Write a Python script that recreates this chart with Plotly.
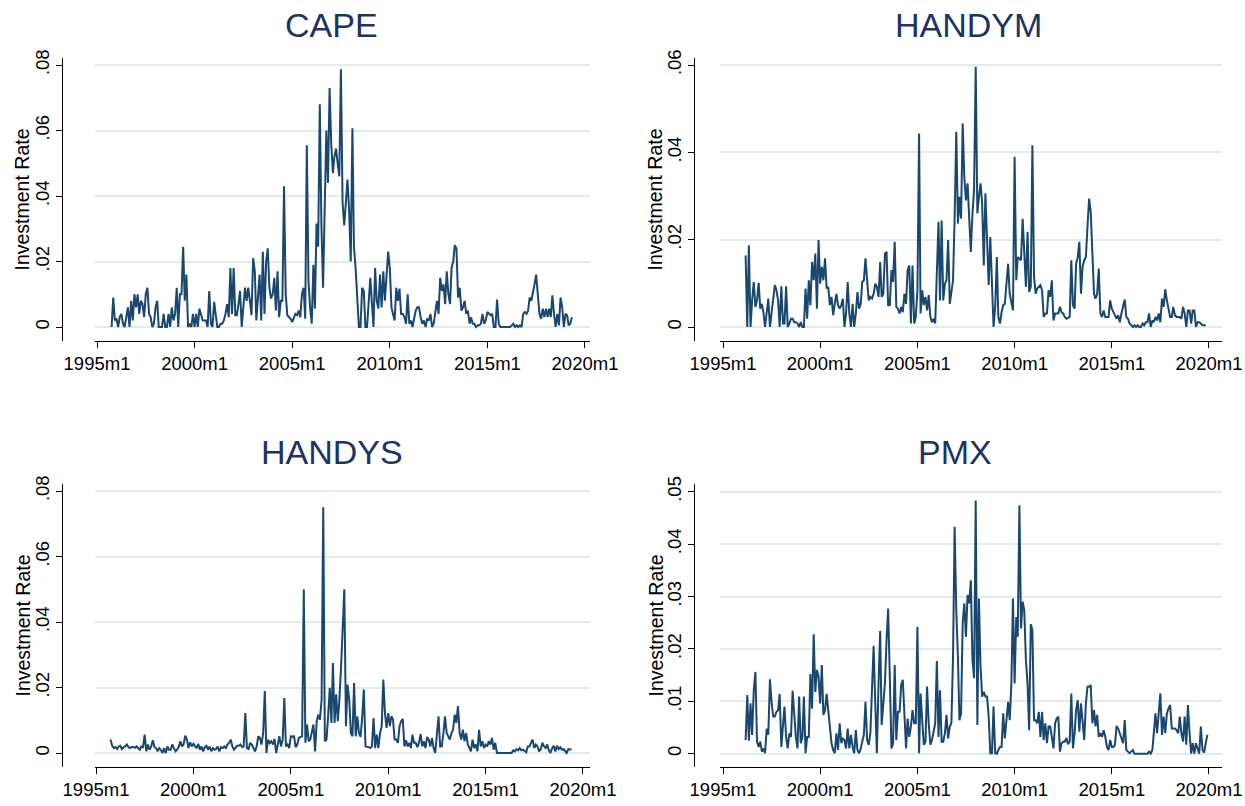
import pandas as pd
import plotly.graph_objects as go

W, H = 1245, 806

# Monthly investment rates by segment
cape_start = "1995-10-01"
cape = [0, .009, .002, .0025, 0, .003, .004, .001, 0, .003,
        .006, 0, .008, .002, .010, .006, .010, .004, .008, .007,
        .003, .010, .012, .004, .003, 0, .001, .006, .008, 0,
        0, 0, .004, 0, 0, .004, 0, .006, .002, .004,
        .012, 0, .010, .010, .0245, .008, .016, 0, .001, 0,
        .004, 0, .004, 0, .0056, .004, .002, .002, .002, 0,
        .011, .001, 0, .0077, .004, 0, 0, .001, .001, .002, .004,
        .007, .003, .018, .004, .018, .0036, .0036, .007, .011, 0,
        .006, .012, .008, .012, .008, .0036, .021, .017, .002, .010,
        .016, .002, .023, .004, .020, .024, .012,
        .0087, .010, .015, .005, .017, .003, .008, .008, .043, .010,
        .0036, .003, .0025, .0015, .003, .004, .0036, .005, .003, .010,
        .012, .0025, .0555, .014, .006, .001, .019, .0056, .0316, .0245,
        .068, .031, .012, .041, .060, .044, .073, .056, .047, .052,
        .0545, .050, .046, .0787, .038, .031, .039, .045, .036, .020,
        .0607, .0245, .018, .008, 0, 0, .012, .011, 0, 0,
        .008, .015, .007, 0, .018, .008, .0056, .016, .006, .017,
        .008, .016, .023, .018, .006, .004, .002, .012, .008, .0117,
        .004, .004, .003, .001, .010, .001, .002, 0, .003, .005,
        .006, .006, .003, .001, .002, 0, .0025, .002, .004, 0,
        .001,
        .005, .008, .004, .015, .011, .013, .007, .017, .010, .007,
        .018, .020, .025, .024, .009, .012, .005, .006, .008, .004,
        .005, .001, .003, .001, .001, 0, .0005, .0005, .001, .004,
        .001, .002, .0046, .004, .0036, .004, 0, 0, .0084, .001,
        0, 0, 0, 0, 0, 0, 0, .0005, .001, 0,
        .0005, 0, .0005, 0, .004, .0046, .004, .005, .009, .008,
        .010, .013, .016, .010, .004, .0025, .0056, .003, .0056, .003,
        .0056, .003, .0097, .004, 0, .004, .0005, .009, .006, 0,
        .004, .0036, .0005, .001, .003]

handym_start = "1996-03-01"
handym = [.0164, 0, .0187, 0, .0061, .0103, .0046, .0061, .0101, .0042,
          .0053, .0031, 0, .0031, .0065, 0, .0031, .0076, .0096, .0084,
          .0061, 0, .0093, .0008, .0008, .0093, 0, .0008, .0019, .0019,
          .0011, .0011, .0008, 0, .0011, 0, 0, .0088, .0019, .0107,
          .0050, .0149, .0107, .0168, .0042, .0199, .0099, .0138, .0107, .0157,
          .0088, .0092, .0050, .0069, .0027, .0053, .0076, .0050, .0042, .0050,
          .0065, 0, .0031, .0103, .0031, 0, .0053, 0, .0031, .0080,
          .0042, .0053, .0103, .0107, .0157, .0107, .0061, .0069, .0065, .0076,
          .0099, .0092, .0069, .0149, .0069, .0076, .0168, .0172, .0050, .0050,
          .0130, .0103, .0195, .0046, .0042, .0031,
          .0046, .0034, .0076, .0053, .0130, .0141, .0008, .0141, .0008, .0023,
          .0084, .0443, .0031, .0084, .0050, .0069, .0038, .0073, .0023, .0011,
          .0019, .0008, .0118, .0241, .0061, .0244, .0061, .0099, .0107, .0199,
          .0053, .0084, .0107, .0252, .0447, .0237, .0298, .0248, .0466, .0344,
          .0290, .0329, .0260, .0172, .0260, .0313, .0596, .0260, .0298, .0329,
          .0283, .0141, .0306, .0206, .0096, .0206, .0084, 0, .0046, .0160,
          .0023, .0008, .0034, .0050, .0053, .0092, .0145, .0076, .0053, .0038,
          .0390, .0107, .0160, .0157, .0153, .0248, .0153, .0092, .0218, .0080,
          .0092, .0416, .0115, .0076, .0088, .0092, .0096, .0084, .0023, .0031,
          .0031, .0084, .0069, .0107, .0015, .0031, .0031, .0031, .0046, .0034,
          .0031, .0023, .0019, .0021,
          .0023, .0153, .0050, .0042, .0145, .0160, .0195, .0076, .0138, .0153,
          .0160, .0229, .0294, .0264, .0153, .0076, .0065, .0076, .0134, .0031,
          .0023, .0038, .0023, .0023, .0023, .0061, .0042, .0034, .0027, .0019,
          .0027, .0011, .0031, .0046, .0063, .0023, .0019, .0008, .0004, 0,
          .0004, 0, .0004, 0, 0, .0008, .0004, .0011, .0011, .0031, 0,
          .0015, .0011, .0023, .0015, .0031, .0011, .0065, .0046, .0086, .0061,
          .0038, .0023, .0023, .0046, .0027, .0023, .0023, .0023, .0019, .0046,
          .0031, 0, .0038, .0038, .0008, .0038, .0038, 0, .0011, .0011,
          .0008, .0004, .0004, .0004]

handys_start = "1995-10-01"
handys = [.0041, .0022, .0015, .0018, .0012, .0020, .0022, .0012, .0018, .0020,
          .0026, .0018, .0015, .0018, .0018, .0016, .0020, .0015, .0010, .0020,
          .0018, .0056, .0005, .0026, .0010, .0020, .0039, .0018, .0015, .0005, .0015,
          .0010, 0, .0015, 0, .0020, .0010, .0010, .0026, .0015, .0005,
          .0010, .0018, .0036, .0020, .0026, .0053, .0041, .0015, .0033, .0020,
          .0028, .0020, .0015, .0028, .0010, .0020, .0005, .0018, .0022, .0010,
          .0020, .0005, .0015, .0010, .0012, .0020, .0005, .0018, .0015, .0020, .0015,
          .0026, .0031, .0041, .0020, .0010, .0015, .0022, .0022, .0026, .0018,
          .0020, .0122, .0015, .0012, .0031, .0026, .0015, .0005, .0020, .0051,
          .0046, .0026, .0061, .0189, 0, .0041, .0030,
          .0036, .0026, .0043, 0, .0031, .0051, .0020, .0041, .0168, .0020,
          .0026, .0015, .0051, .0049, .0053, .0018, .0026, .0046, .0049, .0051,
          .0500, .0031, .0087, .0036, .0041, .0071, .0087, .0005, .0097, .0117,
          .0102, .0163, .0750, .0036, .0041, .0112, .0199, .0092, .0275, .0092,
          .0179, .0097, .0163, .0265, .0367, .0500, .0082, .0209, .0163, .0061,
          .0051, .0214, .0051, .0112, .0061, .0049, .0112, .0194, .0020, .0020,
          .0018, .0015, .0020, .0107, .0015, .0056, .0015, .0061, .0082, .0224,
          .0122, .0077, .0122, .0082, .0112, .0102, .0041, .0041, .0031, .0082,
          .0097, .0104, .0020, .0039, .0020, .0031, .0015, .0056, .0031, .0031,
          .0018, .0031, .0058, .0020, .0036, .0015, .0049, .0041, .0020, .0046,
          .0015, 0,
          .0061, .0112, .0020, .0020, .0061, .0112, .0061, .0051, .0041, .0061,
          .0071, .0117, .0092, .0143, .0061, .0041, .0071, .0036, .0061, .0026,
          .0015, .0005, .0041, .0015, .0026, .0005, .0071, .0020, .0036, .0015,
          .0026, .0020, .0036, .0026, .0046, .0010, .0031, 0, 0, 0,
          0, 0, 0, 0, 0, 0, 0, .0008, .0005, .0012, .0008,
          .0015, .0008, .0010, .0005, .0002, .0020, .0020, .0031, .0041, .0015,
          .0026, .0020, .0005, .0012, .0031, .0020, .0015, .0026, .0008, 0,
          .0015, .0022, .0005, .0022, .0012, .0018, .0010, .0012, .0005, 0,
          .0012, .0010, .0010]

pmx_start = "1996-03-01"
pmx = [.0026, .0112, .0025, .0096, .0036, .0121, .0156, .0023, .0013, .0023,
       .0004, .0010, .0001, .0048, .0036, .0142, .0099, .0071, .0071, .0080,
       .0083, .0114, .0013, .0064, .0090, .0032, .0010, .0039, .0032, .0120,
       .0064, .0032, .0010, .0109, .0020, .0032, .0109, .0001, .0032, .0032,
       .0152, .0086, .0228, .0118, .0160, .0147, .0096, .0169, .0074, .0083,
       .0114, .0083, .0045, .0020, .0007, .0001, .0039, .0007, .0058, .0020,
       .0029, .0026, .0010, .0048, .0010, .0036, .0013, .0001, .0045, .0007,
       .0001, .0010, .0023, .0036, .0099, .0026, .0017, .0039, .0125, .0206,
       .0096, .0001, .0134, .0234, .0055, .0096, .0134, .0217, .0277, .0147,
       .0010, .0020, .0169, .0026, .0080, .0080, .0131, .0141,
       .0058, .0010, .0067, .0032, .0052, .0083, .0058, .0058, .0242, .0001,
       .0115, .0058, .0017, .0023, .0128, .0058, .0017, .0026, .0045, .0058,
       .0177, .0032, .0121, .0023, .0023, .0039, .0074, .0029, .0052, .0058,
       .0185, .0433, .0274, .0185, .0064, .0077, .0249, .0287, .0223, .0303,
       .0287, .0331, .0179, .0144, .0483, .0055, .0296, .0166, .0109, .0118,
       .0109, .0109, .0071, .0001, .0001, .0090, .0001, 0, .0007, .0013,
       .0013, .0077, .0029, .0058, .0099, .0064, .0134, .0296, .0134, .0261,
       .0223, .0474, .0239, .0290, .0274, .0179, .0134, .0045, .0247, .0236,
       .0064, .0064, .0058, .0080, .0032, .0080, .0026, .0058, .0020, .0052,
       .0052, .0032, .0010, .0058, .0067, .0071, .0004, .0020, .0023, .0023,
       .0030, .0018,
       .0023, .0115, .0010, .0039, .0083, .0102, .0042, .0096, .0058, .0026,
       .0096, .0128, .0128, .0131, .0058, .0083, .0052, .0074, .0032, .0039,
       .0032, .0045, .0032, .0013, .0007, .0026, .0013, .0013, .0017, .0053,
       .0048, .0039, .0032, .0020, .0064, .0007, .0004, .0001, .0004, .0007,
       0, 0, 0, 0, 0, 0, 0, 0, 0, .0004, 0,
       .0007, .0042, .0077, .0039, .0071, .0115, .0036, .0071, .0039, .0077,
       .0086, .0093, .0048, .0048, .0048, .0045, .0039, .0071, .0039, .0023,
       .0071, .0017, .0093, .0039, 0, .0020, 0, .0020, .0007, 0,
       .0052, .0007, .0002, .0020, .0036]

x_tick_years = [1995, 2000, 2005, 2010, 2015, 2020]
x_tick_labels = [f"{y}m1" for y in x_tick_years]

panels = [
    dict(name="CAPE", start=cape_start, values=cape,
         yticks=[0, .02, .04, .06, .08], ylabels=["0", ".02", ".04", ".06", ".08"]),
    dict(name="HANDYM", start=handym_start, values=handym,
         yticks=[0, .02, .04, .06], ylabels=["0", ".02", ".04", ".06"]),
    dict(name="HANDYS", start=handys_start, values=handys,
         yticks=[0, .02, .04, .06, .08], ylabels=["0", ".02", ".04", ".06", ".08"]),
    dict(name="PMX", start=pmx_start, values=pmx,
         yticks=[0, .01, .02, .03, .04, .05], ylabels=["0", ".01", ".02", ".03", ".04", ".05"]),
]

# Pixel layout of each panel: plot box, x/y calibration, axis and title placement
geom = [
    dict(x0=95, x1=590, top=58, bot=341, px95=97, px20=585, py0=327, pytop=65,
         yaxis_x=62, ytitle_x=22, title_x=331, title_y=25),
    dict(x0=720, x1=1222, top=58, bot=341, px95=723, px20=1209, py0=327, pytop=65,
         yaxis_x=694, ytitle_x=655, title_x=968, title_y=25),
    dict(x0=95, x1=590, top=484, bot=767, px95=96, px20=583, py0=753, pytop=491,
         yaxis_x=62, ytitle_x=22, title_x=332, title_y=452),
    dict(x0=720, x1=1222, top=484, bot=767, px95=723, px20=1209, py0=753.7, pytop=491.7,
         yaxis_x=694, ytitle_x=655, title_x=955, title_y=452),
]

LINE = "#1a476f"
GRID = "#e1eaec"
FONT = "Liberation Sans, Arial, sans-serif"
TITLE_COLOR = "#1c3461"


def month_offset(base, months):
    ts = pd.Timestamp(base)
    return ts + pd.Timedelta(days=months * 30.4375)


fig = go.Figure()
for i, (p, g) in enumerate(zip(panels, geom), start=1):
    dates = pd.date_range(p["start"], periods=len(p["values"]), freq="MS")
    xa = "x" if i == 1 else f"x{i}"
    ya = "y" if i == 1 else f"y{i}"
    fig.add_trace(go.Scatter(x=dates, y=p["values"], mode="lines",
                             line=dict(color=LINE, width=2),
                             xaxis=xa, yaxis=ya, showlegend=False,
                             hoverinfo="skip"))

    ppm = (g["px20"] - g["px95"]) / 300.0
    xr0 = month_offset("1995-01-01", (g["x0"] - g["px95"]) / ppm)
    xr1 = month_offset("1995-01-01", (g["x1"] - g["px95"]) / ppm)

    ytop_val = p["yticks"][-1]
    ppu = (g["py0"] - g["pytop"]) / ytop_val
    yr0 = -(g["bot"] - g["py0"]) / ppu
    yr1 = ytop_val + (g["pytop"] - g["top"]) / ppu

    xkey = "xaxis" if i == 1 else f"xaxis{i}"
    ykey = "yaxis" if i == 1 else f"yaxis{i}"
    fig.layout[xkey] = dict(
        domain=[g["x0"] / W, g["x1"] / W], anchor=ya, type="date",
        range=[xr0, xr1], tickmode="array", automargin=False,
        tickvals=[f"{y}-01-01" for y in x_tick_years], ticktext=x_tick_labels,
        showgrid=False, zeroline=False, showline=True, linecolor="#000000",
        linewidth=1, ticks="outside", ticklen=6, tickcolor="#000000",
        tickfont=dict(family=FONT, size=18.5, color="#000000"),
    )
    fig.layout[ykey] = dict(
        domain=[1 - g["bot"] / H, 1 - g["top"] / H], anchor="free",
        position=g["yaxis_x"] / W, automargin=False,
        range=[yr0, yr1], tickmode="array", tickvals=p["yticks"],
        ticktext=p["ylabels"], tickangle=-90,
        showgrid=True, gridcolor=GRID, gridwidth=1.5, zeroline=False,
        showline=True, linecolor="#000000", linewidth=1,
        ticks="outside", ticklen=6, tickcolor="#000000",
        tickfont=dict(family=FONT, size=18.5, color="#000000"),
    )
    fig.add_annotation(text="Investment Rate", xref="paper", yref="paper",
                       x=g["ytitle_x"] / W,
                       y=1 - ((g["top"] + g["bot"]) / 2) / H,
                       textangle=-90, xanchor="center", yanchor="middle",
                       showarrow=False,
                       font=dict(family=FONT, size=19.5, color="#000000"))
    fig.add_annotation(text=p["name"], xref="paper", yref="paper",
                       x=g["title_x"] / W, y=1 - g["title_y"] / H,
                       xanchor="center", yanchor="middle", showarrow=False,
                       font=dict(family=FONT, size=34, color=TITLE_COLOR))

fig.update_layout(width=W, height=H, margin=dict(l=0, r=0, t=0, b=0),
                  paper_bgcolor="white", plot_bgcolor="white")

fig.write_html("out.html")
